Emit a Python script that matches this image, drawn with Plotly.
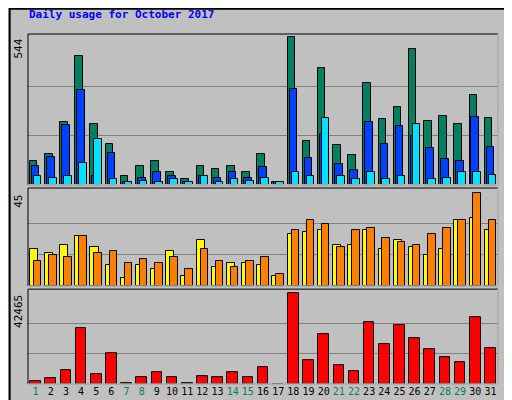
import plotly.graph_objects as go

days = list(range(1, 32))
hits = [86,112,230,474,223,149,31,71,86,49,20,71,60,71,46,112,12,544,160,430,145,108,374,241,286,500,234,252,223,330,245]
files = [68,101,219,348,34,119,12,27,46,31,12,34,27,46,27,64,9,352,97,186,75,53,230,149,215,178,134,94,86,249,138]
pages = [34,27,31,79,167,20,12,16,12,23,9,34,12,20,16,27,9,49,34,245,31,23,46,23,34,223,20,27,46,46,38]
visits = [18,16,20,24,19,10,4,10,8,17,5,22,9,11,11,10,5,25,26,27,20,20,27,18,22,19,15,18,32,33,27]
sites = [12,15,14,24,16,17,11,13,11,14,8,18,12,9,12,14,6,27,32,30,19,27,28,23,21,20,25,28,32,45,32]
kbytes = [1550,2950,6660,26200,4800,14570,460,3400,5740,3400,460,3880,3400,5740,3400,8060,0,42465,11300,23400,9000,6200,29000,18750,27600,21550,16430,12700,10400,31300,16900]
weekend = {1,7,8,14,15,21,22,28,29}

line = dict(color="black", width=1)
fig = go.Figure()
def bar(y, color, off, w, ax):
    fig.add_trace(go.Bar(x=days, y=y, marker=dict(color=color, line=line), offset=off, width=w,
                         yaxis=ax, showlegend=False))
bar(hits, "#008060", -0.38, 0.5, "y")
bar(files, "#0040FF", -0.25, 0.5, "y")
bar(pages, "#00E0FF", -0.12, 0.5, "y")
bar(visits, "#FFFF00", -0.38, 0.53, "y2")
bar(sites, "#FF8000", -0.12, 0.5, "y2")
bar(kbytes, "#FF0000", -0.35, 0.7, "y3")

mh, mv, mk = max(hits), max(sites), max(kbytes)
grid = dict(showticklabels=False, gridcolor="#808080", gridwidth=1, zeroline=False, showline=False, ticks="")
fig.update_layout(
    width=512, height=400, margin=dict(l=20, r=22, t=26, b=24),
    paper_bgcolor="#C0C0C0", plot_bgcolor="#C0C0C0", barmode="overlay", bargap=0,
    font=dict(family="DejaVu Sans Mono", size=10, color="black"),
    xaxis=dict(range=[0.5, 31.5], anchor="y3", tickvals=days, tickangle=0,
               ticktext=[f"<span style='color:#008060'>{d}</span>" if d in weekend else str(d) for d in days],
               showgrid=False, ticks="", tickfont=dict(size=10)),
    yaxis=dict(domain=[0.569, 1], range=[0, mh * 1.02], tickvals=[mh/3, 2*mh/3], **grid),
    yaxis2=dict(domain=[0.28, 0.56], range=[0, mv * 1.05], tickvals=[15, 30], **grid),
    yaxis3=dict(domain=[0, 0.271], range=[0, mk * 1.04], tickvals=[mk/3, 2*mk/3], **grid),
)
for d0, d1 in [(0.569, 1), (0.28, 0.56), (0, 0.271)]:
    fig.add_shape(type="rect", xref="paper", yref="paper", x0=0, x1=1, y0=d0, y1=d1,
                  line=dict(color="black", width=1))
    fig.add_shape(type="line", xref="paper", yref="paper", x0=0, x1=1, y0=d0, y1=d0,
                  line=dict(color="white", width=1))
    fig.add_shape(type="line", xref="paper", yref="paper", x0=1, x1=1, y0=d0, y1=d1,
                  line=dict(color="white", width=1))
fig.add_shape(type="rect", xref="paper", yref="paper", x0=-0.039, x1=1.045, y0=-0.068, y1=1.072,
              line=dict(color="black", width=2))

def ann(text, y, ax_ref):
    fig.add_annotation(text=text, x=-0.02, y=y, xref="paper", yref=ax_ref, showarrow=False,
                       textangle=-90, font=dict(size=11), xanchor="center", yanchor="top")

fig.add_annotation(text="<b>Daily usage for October 2017</b>", x=-0.002, y=1.055, xref="paper", yref="paper",
                   showarrow=False, xanchor="left", yanchor="middle", font=dict(color="#0000FF", size=11))
ann(str(mh), mh, "y")
ann(str(mv), mv, "y2")
ann(str(mk), mk, "y3")

def rlabel(parts, yc):
    # draw each word separately so the vertical stacking is exact
    n = sum(len(t) for t, _ in parts)
    ch = 6.0 / 350  # paper units per char
    y = yc - n * ch / 2
    for t, c in parts:
        fig.add_annotation(text=t, x=1.022, y=y, xref="paper", yref="paper", showarrow=False,
                           textangle=-90, font=dict(size=10, color=c), xanchor="center", yanchor="bottom")
        y += len(t) * ch

rlabel([("Pages", "#00E0FF"), ("/", "black"), ("Files", "#0040FF"), ("/", "black"), ("Hits", "#008060")], 0.785)
rlabel([("Sites", "#FF8000"), ("/", "black"), ("Visits", "#FFFF00")], 0.42)
rlabel([("KBytes", "#FF0000")], 0.09)
fig.write_html("out.html")
